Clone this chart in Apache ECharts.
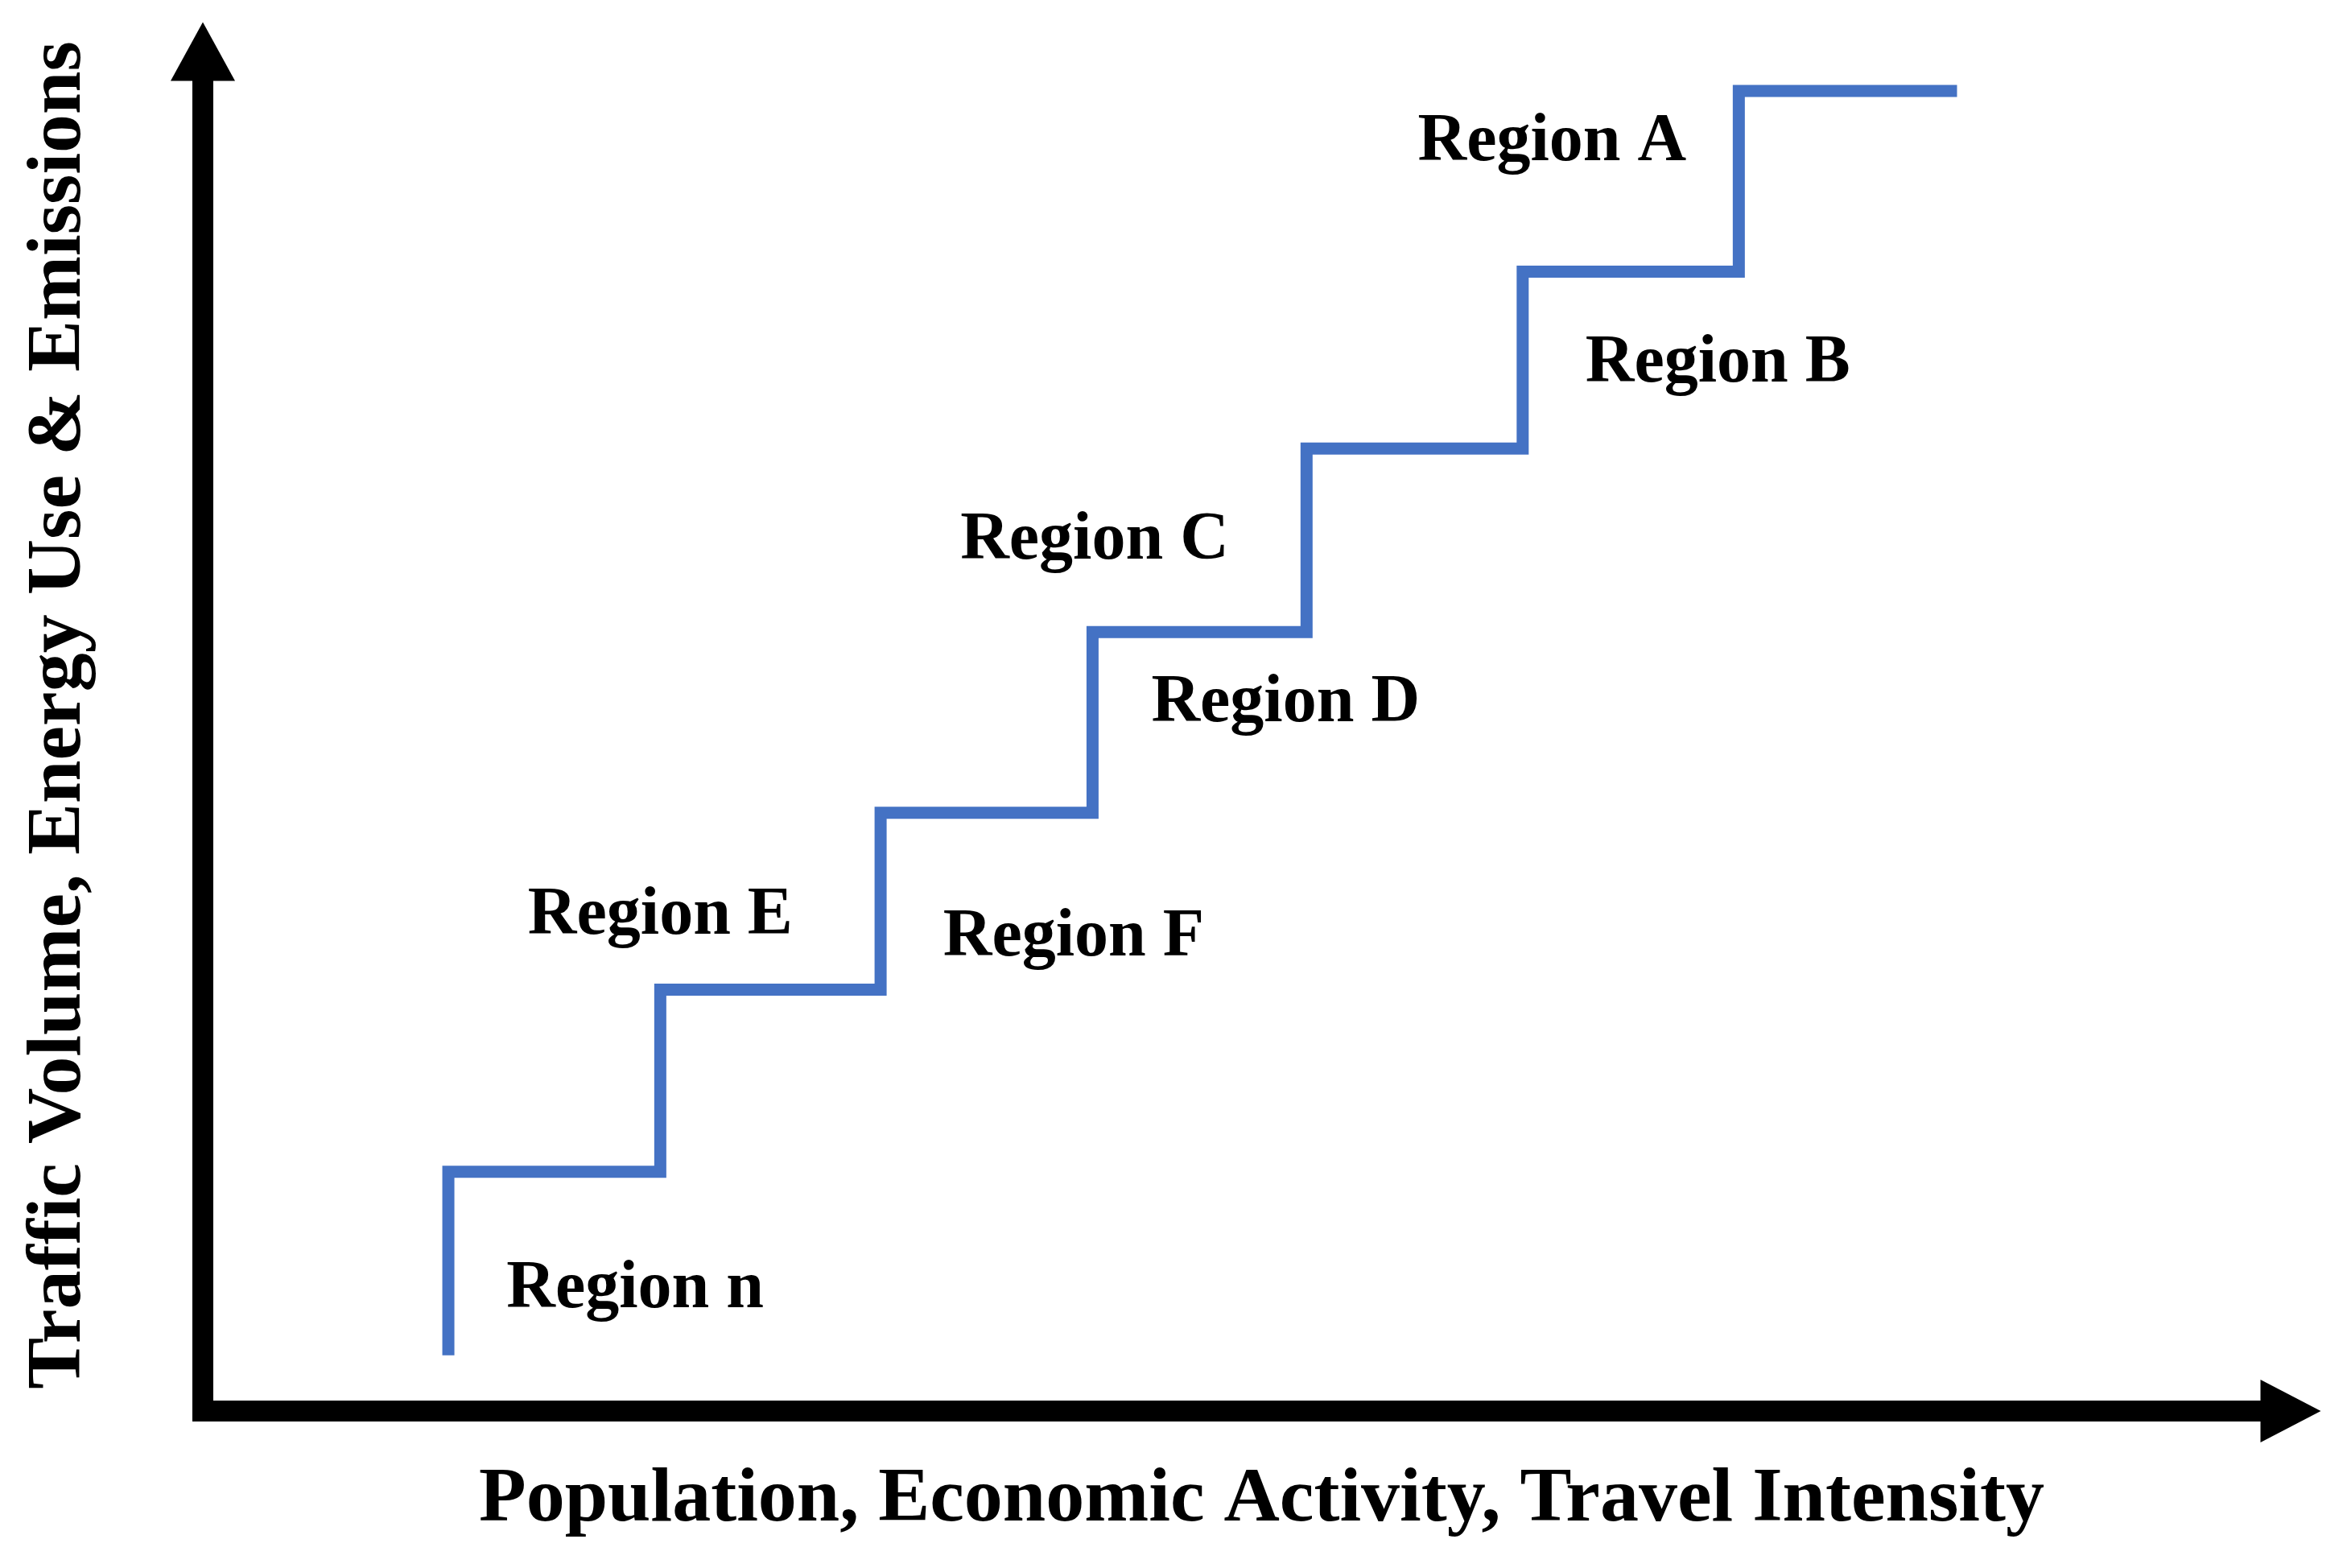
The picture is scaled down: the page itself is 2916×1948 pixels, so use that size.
<!DOCTYPE html>
<html>
<head>
<meta charset="utf-8">
<title>Region steps</title>
<script src="https://cdn.jsdelivr.net/npm/echarts@6/dist/echarts.min.js"></script>
<style>
    html, body { margin: 0; padding: 0; background: #fff; }
    #chart { width: 2916px; height: 1948px; }
</style>
</head>
<body>
<div id="chart"></div>
<script>
// step corners (x = where each riser sits, y = level of the tread that follows)
const stepX = [12.2, 22.3, 32.8, 42.9, 53.1, 63.4, 73.7, 84.1];
const stepY = [4.1, 17.6, 31.0, 44.0, 57.3, 70.8, 83.8, 97.1];

// region labels and where they sit
const regionNames = ['Region A', 'Region B', 'Region C', 'Region D', 'Region E', 'Region F', 'Region n'];
const regionX = [64.8, 72.7, 43.0, 52.1, 22.3, 42.0, 21.1];
const regionY = [93.3, 77.0, 64.0, 52.0, 36.4, 34.8, 8.9];

const xTitle = 'Population, Economic Activity, Travel Intensity';
const yTitle = 'Traffic Volume, Energy Use & Emissions';

const serif = 'Liberation Serif';

const chart = echarts.init(document.getElementById('chart'));

const axisLine = (arrow) => ({
    show: true,
    symbol: ['none', 'triangle'],
    symbolSize: arrow,
    lineStyle: { color: '#000', width: 26, cap: 'butt' }
});

const option = {
    animation: false,
    backgroundColor: '#fff',
    grid: { left: 239, right: 70, top: 64, bottom: 195 },
    xAxis: {
        type: 'value', min: 0, max: 100,
        name: xTitle, nameLocation: 'middle', nameGap: 63,
        nameTextStyle: { fontFamily: serif, fontWeight: 'bold', fontSize: 96, color: '#000', padding: [0, 0, 0, 50] },
        axisLine: axisLine([78, 75]),
        axisTick: { show: false }, axisLabel: { show: false }, splitLine: { show: false }
    },
    yAxis: {
        type: 'value', min: 0, max: 100, offset: -13,
        name: yTitle, nameLocation: 'middle', nameGap: 130,
        nameTextStyle: { fontFamily: serif, fontWeight: 'bold', fontSize: 96, color: '#000', padding: [0, 0, 0, 40] },
        axisLine: axisLine([80, 73]),
        axisTick: { show: false }, axisLabel: { show: false }, splitLine: { show: false }
    },
    series: [
        {
            type: 'line',
            step: 'start',
            data: stepX.map((x, i) => [x, stepY[i]]),
            showSymbol: false,
            lineStyle: { color: '#4472C4', width: 15, join: 'miter', cap: 'butt' },
            z: 3
        },
        {
            type: 'scatter',
            data: regionNames.map((n, i) => ({ name: n, value: [regionX[i], regionY[i]] })),
            symbolSize: 1,
            itemStyle: { color: 'rgba(0,0,0,0)', opacity: 1 },
            label: {
                show: true, position: 'inside', formatter: '{b}',
                fontFamily: serif, fontWeight: 'bold', fontSize: 84, color: '#000',
                align: 'center', verticalAlign: 'middle'
            },
            z: 4
        }
    ]
};

chart.setOption(option);
window.addEventListener('resize', () => chart.resize());
</script>
</body>
</html>
